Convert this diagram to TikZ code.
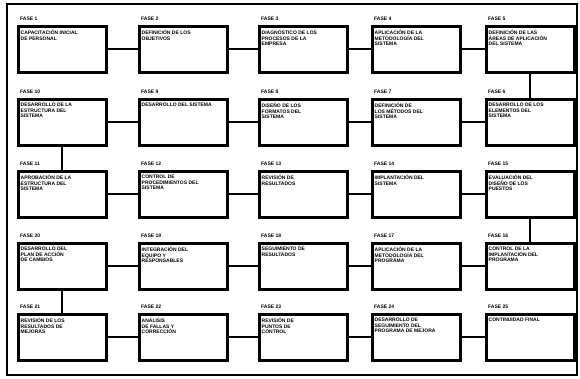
\documentclass[tikz,border=0pt]{standalone}
\usepackage{fontspec}
\setmainfont{Liberation Sans}
\tikzset{
  pbox/.style={draw, line width=2.6pt, minimum width=88pt, minimum height=46pt, anchor=north west, inner sep=0pt},
  ptext/.style={anchor=north west, inner sep=0pt, align=left, font=\bfseries\fontsize{5}{5.6}\selectfont},
  phead/.style={anchor=south west, inner sep=0pt, font=\bfseries\fontsize{5}{5.6}\selectfont},
  conn/.style={line width=2.2pt},
  frame/.style={line width=1.8pt}
}
\newcommand{\pbx}[5]{%
  \node[pbox] (#1) at (#2,#3) {};
  \node[ptext] (#1t) at ([shift={(3.5pt,-5pt)}]#1.north west) {#5};
  \node[phead] (#1h) at ([shift={(3pt,4pt)}]#1.north west) {#4};
}
\begin{document}
\begin{tikzpicture}[x=1pt,y=-1pt]
\useasboundingbox (0,0) rectangle (580,378);
\draw[frame] (7,4) rectangle (577,375);
% row 1
\pbx{b11}{17}{25}{FASE 1}{CAPACITACIÓN INICIAL\\DE PERSONAL}
\pbx{b12}{138}{25}{FASE 2}{DEFINICIÓN DE LOS\\OBJETIVOS}
\pbx{b13}{258}{25}{FASE 3}{DIAGNÓSTICO DE LOS\\PROCESOS DE LA\\EMPRESA}
\pbx{b14}{371}{25}{FASE 4}{APLICACIÓN DE LA\\METODOLOGÍA DEL\\SISTEMA}
\pbx{b15}{485}{25}{FASE 5}{DEFINICIÓN DE LAS\\ÁREAS DE APLICACIÓN\\DEL SISTEMA}
% row 2
\pbx{b21}{17}{98}{FASE 10}{DESARROLLO DE LA\\ESTRUCTURA DEL\\SISTEMA}
\pbx{b22}{138}{98}{FASE 9}{DESARROLLO DEL SISTEMA}
\pbx{b23}{258}{98}{FASE 8}{DISEÑO DE LOS\\FORMATOS DEL\\SISTEMA}
\pbx{b24}{371}{98}{FASE 7}{DEFINICIÓN DE\\LOS MÉTODOS DEL\\SISTEMA}
\pbx{b25}{485}{98}{FASE 6}{DESARROLLO DE LOS\\ELEMENTOS DEL\\SISTEMA}
% row 3
\pbx{b31}{17}{170}{FASE 11}{APROBACIÓN DE LA\\ESTRUCTURA DEL\\SISTEMA}
\pbx{b32}{138}{170}{FASE 12}{CONTROL DE\\PROCEDIMIENTOS DEL\\SISTEMA}
\pbx{b33}{258}{170}{FASE 13}{REVISIÓN DE\\RESULTADOS}
\pbx{b34}{371}{170}{FASE 14}{IMPLANTACIÓN DEL\\SISTEMA}
\pbx{b35}{485}{170}{FASE 15}{EVALUACIÓN DEL\\DISEÑO DE LOS\\PUESTOS}
% row 4
\pbx{b41}{17}{242}{FASE 20}{DESARROLLO DEL\\PLAN DE ACCIÓN\\DE CAMBIOS}
\pbx{b42}{138}{242}{FASE 19}{INTEGRACIÓN DEL\\EQUIPO Y\\RESPONSABLES}
\pbx{b43}{258}{242}{FASE 18}{SEGUIMIENTO DE\\RESULTADOS}
\pbx{b44}{371}{242}{FASE 17}{APLICACIÓN DE LA\\METODOLOGÍA DEL\\PROGRAMA}
\pbx{b45}{485}{242}{FASE 16}{CONTROL DE LA\\IMPLANTACIÓN DEL\\PROGRAMA}
% row 5
\pbx{b51}{17}{313}{FASE 21}{REVISIÓN DE LOS\\RESULTADOS DE\\MEJORAS}
\pbx{b52}{138}{313}{FASE 22}{ANÁLISIS\\DE FALLAS Y\\CORRECCIÓN}
\pbx{b53}{258}{313}{FASE 23}{REVISIÓN DE\\PUNTOS DE\\CONTROL}
\pbx{b54}{371}{313}{FASE 24}{DESARROLLO DE\\SEGUIMIENTO DEL\\PROGRAMA DE MEJORA}
\pbx{b55}{485}{313}{FASE 25}{CONTINUIDAD FINAL}
% connectors
\draw[conn] (b11) -- (b12); \draw[conn] (b12) -- (b13); \draw[conn] (b13) -- (b14); \draw[conn] (b14) -- (b15);
\draw[conn] (b15) -- (b25);
\draw[conn] (b25) -- (b24); \draw[conn] (b24) -- (b23); \draw[conn] (b23) -- (b22); \draw[conn] (b22) -- (b21);
\draw[conn] (b21) -- (b31);
\draw[conn] (b31) -- (b32); \draw[conn] (b32) -- (b33); \draw[conn] (b33) -- (b34); \draw[conn] (b34) -- (b35);
\draw[conn] (b35) -- (b45);
\draw[conn] (b45) -- (b44); \draw[conn] (b44) -- (b43); \draw[conn] (b43) -- (b42); \draw[conn] (b42) -- (b41);
\draw[conn] (b41) -- (b51);
\draw[conn] (b51) -- (b52); \draw[conn] (b52) -- (b53); \draw[conn] (b53) -- (b54); \draw[conn] (b54) -- (b55);
\end{tikzpicture}
\end{document}
